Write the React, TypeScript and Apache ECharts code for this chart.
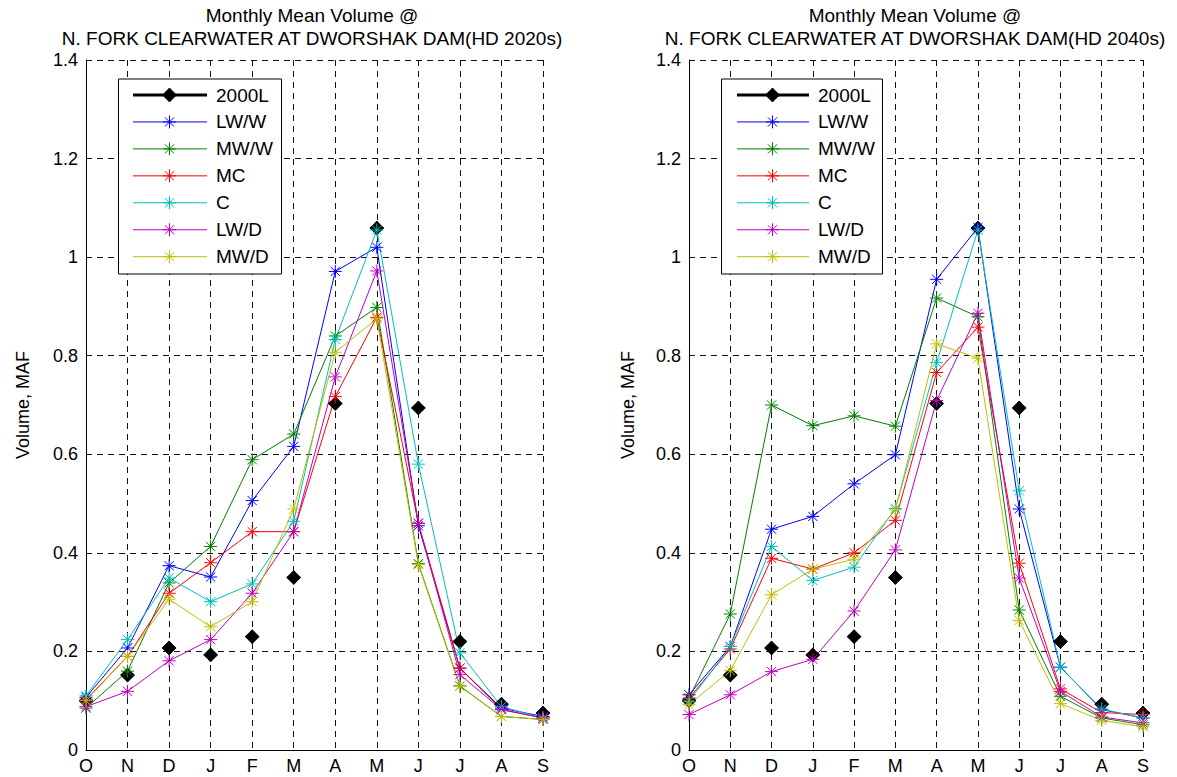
import React, { useEffect, useRef } from 'react';
import * as echarts from 'echarts';

const months = ['O', 'N', 'D', 'J', 'F', 'M', 'A', 'M', 'J', 'J', 'A', 'S'];
const seriesNames = ['2000L', 'LW/W', 'MW/W', 'MC', 'C', 'LW/D', 'MW/D'];
const seriesColors = ['#000000', '#0000FF', '#008000', '#FF0000', '#00BFBF', '#BF00BF', '#BFBF00'];
const titleLine1 = 'Monthly Mean Volume @';
const titleLeft = 'N. FORK CLEARWATER AT DWORSHAK DAM(HD 2020s)';
const titleRight = 'N. FORK CLEARWATER AT DWORSHAK DAM(HD 2040s)';
const yAxisName = 'Volume, MAF';

// 2000 level (same in both panels)
const base2000L = [0.10, 0.152, 0.207, 0.193, 0.23, 0.35, 0.703, 1.059, 0.694, 0.22, 0.093, 0.075];

// 2020s
const lwW2020 = [0.107, 0.207, 0.374, 0.351, 0.506, 0.616, 0.971, 1.02, 0.455, 0.166, 0.085, 0.068];
const mwW2020 = [0.085, 0.16, 0.339, 0.413, 0.589, 0.641, 0.84, 0.898, 0.378, 0.13, 0.068, 0.062];
const mc2020 = [0.102, 0.19, 0.318, 0.38, 0.443, 0.443, 0.717, 0.878, 0.46, 0.166, 0.082, 0.065];
const c2020 = [0.11, 0.224, 0.349, 0.301, 0.337, 0.464, 0.833, 1.055, 0.58, 0.197, 0.088, 0.065];
const lwD2020 = [0.088, 0.119, 0.181, 0.224, 0.318, 0.443, 0.757, 0.972, 0.46, 0.153, 0.082, 0.065];
const mwD2020 = [0.10, 0.19, 0.306, 0.25, 0.301, 0.489, 0.807, 0.875, 0.376, 0.129, 0.068, 0.062];

// 2040s
const lwW2040 = [0.112, 0.21, 0.448, 0.474, 0.54, 0.599, 0.955, 1.06, 0.489, 0.168, 0.082, 0.065];
const mwW2040 = [0.105, 0.276, 0.70, 0.658, 0.678, 0.657, 0.917, 0.879, 0.284, 0.109, 0.065, 0.051];
const mc2040 = [0.105, 0.205, 0.389, 0.367, 0.40, 0.466, 0.766, 0.858, 0.379, 0.124, 0.076, 0.072];
const c2040 = [0.099, 0.21, 0.413, 0.344, 0.371, 0.49, 0.786, 1.055, 0.526, 0.168, 0.083, 0.065];
const lwD2040 = [0.072, 0.112, 0.159, 0.184, 0.282, 0.406, 0.709, 0.886, 0.349, 0.119, 0.067, 0.055];
const mwD2040 = [0.092, 0.161, 0.315, 0.367, 0.387, 0.487, 0.824, 0.795, 0.263, 0.094, 0.06, 0.047];

const panel2020 = [base2000L, lwW2020, mwW2020, mc2020, c2020, lwD2020, mwD2020];
const panel2040 = [base2000L, lwW2040, mwW2040, mc2040, c2040, lwD2040, mwD2040];

const ASTER_D = 'M-6.5,0L6.5,0M0,-6.5L0,6.5M-4.6,-4.6L4.6,4.6M-4.6,4.6L4.6,-4.6';
const STAR_D = 'M0,-7L3.4,-3.4L7,0L3.4,3.4L0,7L-3.4,3.4L-7,0L-3.4,-3.4Z';
let registered = false;
function registerShapes() {
  if (registered) return;
  registered = true;
  echarts.graphic.registerShape('asterisk', echarts.graphic.extendPath(ASTER_D, {}) as any);
  echarts.graphic.registerShape('star4', echarts.graphic.extendPath(STAR_D, {}) as any);
}

const FONT = 'Arial, "Liberation Sans", sans-serif';

function buildLegend(boxX: number, boxW: number, lineX1: number, lineX2: number, markX: number, textX: number) {
  const children: any[] = [];
  children.push({
    type: 'rect',
    shape: { x: boxX, y: 79, width: boxW, height: 195 },
    style: { fill: '#fff', stroke: '#000', lineWidth: 1 },
    z: 100,
  });
  seriesNames.forEach((name, i) => {
    const y = 95 + i * 26.95;
    children.push({
      type: 'line',
      shape: { x1: lineX1, y1: y, x2: lineX2, y2: y },
      style: { stroke: seriesColors[i], lineWidth: i === 0 ? 3 : 1 },
      z: 101,
    });
    if (i === 0) {
      children.push({ type: 'star4', x: markX, y, style: { fill: '#000', stroke: '#000', lineWidth: 1 }, z: 102 });
    } else {
      children.push({ type: 'asterisk', x: markX, y, style: { fill: 'none', stroke: seriesColors[i], lineWidth: 1 }, z: 102 });
    }
    children.push({
      type: 'text',
      x: textX,
      y,
      style: { text: name, fill: '#000', font: `19px ${FONT}`, textVerticalAlign: 'middle', verticalAlign: 'middle' },
      z: 102,
    });
  });
  return children;
}

export default function App() {
  const ref = useRef<HTMLDivElement>(null);
  useEffect(() => {
    if (!ref.current) return;
    registerShapes();
    const chart = echarts.init(ref.current, undefined, { renderer: 'svg' });
    const grids = [
      { left: 86, top: 60, width: 457, height: 690 },
      { left: 689, top: 60, width: 454, height: 690 },
    ];
    const splitStyle = { show: true, lineStyle: { color: '#111', width: 1, type: [6, 5] as any } };
    const xAxes = [0, 1].map((g) => ({
      type: 'category',
      gridIndex: g,
      data: months,
      boundaryGap: false,
      axisLine: { show: true, lineStyle: { color: '#000', width: 1 } },
      axisTick: { show: false },
      axisLabel: { color: '#000', fontSize: 18, fontFamily: FONT, margin: 7, interval: 0 },
      splitLine: { ...splitStyle, interval: 0 },
    }));
    const yAxes = [0, 1].map((g) => ({
      type: 'value',
      gridIndex: g,
      min: 0,
      max: 1.4,
      interval: 0.2,
      name: yAxisName,
      nameLocation: 'middle',
      nameRotate: 90,
      nameGap: g === 0 ? 54 : 52,
      nameTextStyle: { color: '#000', fontSize: 18, fontFamily: FONT },
      axisLine: { show: true, lineStyle: { color: '#000', width: 1 } },
      axisTick: { show: false },
      axisLabel: { color: '#000', fontSize: 18, fontFamily: FONT, margin: 8 },
      splitLine: splitStyle,
    }));
    const series: any[] = [];
    [panel2020, panel2040].forEach((panel, g) => {
      panel.forEach((vals, i) => {
        const isBase = i === 0;
        series.push({
          type: 'line',
          name: seriesNames[i],
          xAxisIndex: g,
          yAxisIndex: g,
          data: vals,
          symbol: isBase
            ? 'path://M7,0L10.4,3.6L14,7L10.4,10.4L7,14L3.6,10.4L0,7L3.6,3.6Z'
            : 'path://M0,6.5L13,6.5M6.5,0L6.5,13M1.9,1.9L11.1,11.1M1.9,11.1L11.1,1.9',
          symbolSize: isBase ? 14 : 13,
          showSymbol: true,
          showAllSymbol: true,
          lineStyle: isBase ? { width: 0, opacity: 0 } : { width: 1, color: seriesColors[i] },
          itemStyle: isBase
            ? { color: '#000', borderColor: '#000', borderWidth: 1 }
            : { color: seriesColors[i], borderColor: seriesColors[i], borderWidth: 1 },
          emphasis: { disabled: true },
          silent: true,
        });
      });
    });
    const titleStyle = { fontSize: 19, fontWeight: 'normal', color: '#000', lineHeight: 23, fontFamily: FONT };
    chart.setOption({
      animation: false,
      backgroundColor: '#fff',
      textStyle: { fontFamily: FONT },
      title: [
        { text: `${titleLine1}\n${titleLeft}`, left: 312, textAlign: 'center', top: 4, padding: 0, textStyle: titleStyle },
        { text: `${titleLine1}\n${titleRight}`, left: 915, textAlign: 'center', top: 4, padding: 0, textStyle: titleStyle },
      ],
      grid: grids,
      xAxis: xAxes,
      yAxis: yAxes,
      series,
      graphic: [
        ...buildLegend(118.5, 163, 133, 207, 169.5, 216),
        ...buildLegend(721.5, 161, 737, 809, 772.5, 818),
      ],
    });
    return () => chart.dispose();
  }, []);
  return <div ref={ref} style={{ position: 'fixed', left: 0, top: 0, width: 1177, height: 777, background: '#fff' }} />;
}
